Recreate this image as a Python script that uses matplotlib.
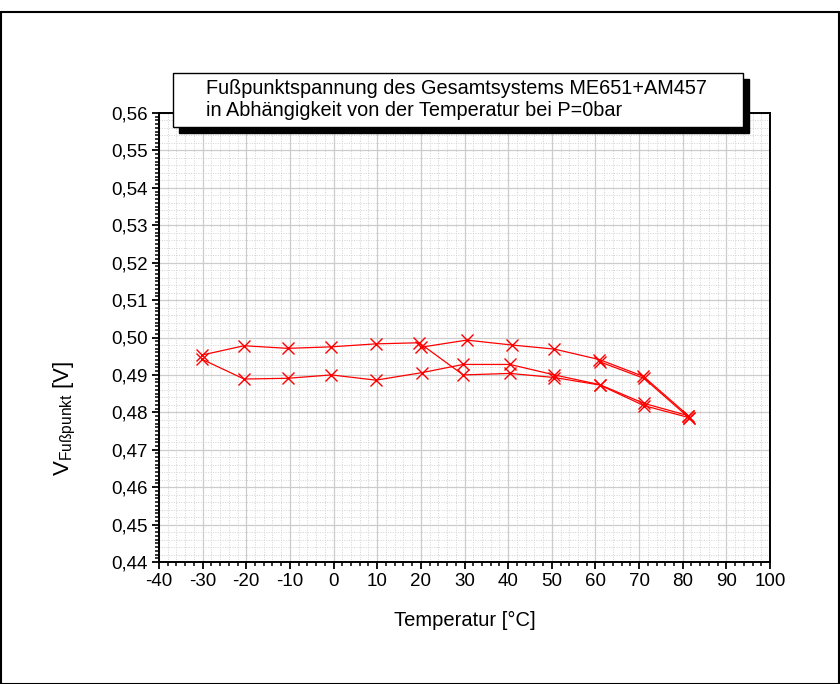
import numpy as np
import matplotlib
matplotlib.use("Agg")
import matplotlib.pyplot as plt
from matplotlib.patches import Rectangle
from matplotlib.ticker import MultipleLocator, FuncFormatter

plt.rcParams['font.family'] = ['Liberation Sans', 'DejaVu Sans']
plt.rcParams['mathtext.fontset'] = 'custom'
plt.rcParams['mathtext.rm'] = 'Liberation Sans'

temp_heat1 = [20.0, 30.5, 40.8, 50.6, 60.9, 71.0, 81.3]
volt_heat1 = [0.4974, 0.4993, 0.4980, 0.4969, 0.4941, 0.4896, 0.4791]
# Abkühlen 80 -> -30 °C
temp_cool1 = [81.3, 71.1, 61.0, 50.6, 40.4, 29.7, 20.2, 9.7, -0.5, -10.5, -20.5, -30.2]
volt_cool1 = [0.4791, 0.4824, 0.4874, 0.4900, 0.4928, 0.4928, 0.4906, 0.4886, 0.4900, 0.4891, 0.4889, 0.4942]
# erneutes Aufheizen -30 -> 80 °C
temp_heat2 = [-30.2, -20.5, -10.5, -0.6, 9.7, 19.6, 29.7, 40.4, 50.6, 61.0, 71.1, 81.4]
volt_heat2 = [0.4953, 0.4978, 0.4971, 0.4975, 0.4983, 0.4986, 0.4900, 0.4904, 0.4893, 0.4873, 0.4818, 0.4786]
# Abkühlen 80 -> 60 °C
temp_cool2 = [81.4, 71.1, 61.0]
volt_cool2 = [0.4786, 0.4891, 0.4935]

x_ticks = np.arange(-40, 101, 10)
y_ticks = np.arange(0.44, 0.5601, 0.01)

fig = plt.figure(figsize=(8.4, 6.84), dpi=100)
ax = fig.add_axes([159/840, 1-562/684, (770-159)/840, (562-113)/684])

# Gitter
for yy in np.arange(0.44, 0.5601, 0.002):
    ax.axhline(yy, color='#d2d2d2', lw=0.7, ls=(0, (1, 1.5)), zorder=0)
for xx in np.arange(-40, 101, 2):
    ax.axvline(xx, color='#d2d2d2', lw=0.7, ls=(0, (1, 1.5)), zorder=0)
for yy in y_ticks:
    ax.axhline(yy, color='#cccccc', lw=0.9, zorder=0)
for xx in x_ticks:
    ax.axvline(xx, color='#cccccc', lw=0.9, zorder=0)

for t, v in [(temp_heat1, volt_heat1), (temp_cool1, volt_cool1),
             (temp_heat2, volt_heat2), (temp_cool2, volt_cool2)]:
    ax.plot(t, v, color='red', lw=0.9, marker='x', ms=8.5, mew=1.0, zorder=3)

ax.set_xlim(-40, 100)
ax.set_ylim(0.44, 0.56)
ax.set_xticks(x_ticks)
ax.set_yticks(y_ticks)
ax.xaxis.set_minor_locator(MultipleLocator(2))
ax.yaxis.set_minor_locator(MultipleLocator(0.001))
ax.xaxis.set_major_formatter(FuncFormatter(lambda v, p: '%d' % round(v)))
ax.yaxis.set_major_formatter(FuncFormatter(lambda v, p: ('%.2f' % v).replace('.', ',')))
ax.tick_params(which='major', direction='out', length=5, width=1.3, labelsize=13.5,
               colors='black', pad=3)
ax.tick_params(which='minor', direction='out', length=3, width=1.1)
for s in ax.spines.values():
    s.set_linewidth(1.4)

ax.set_xlabel('Temperatur [°C]', fontsize=14.5, labelpad=15)
ax.set_ylabel(r'V$_{\mathregular{Fußpunkt}}$ [V]', fontsize=16)
ax.yaxis.set_label_coords(-0.132, 0.32)

# Titelkasten mit Schatten
px = lambda x, y: (x/840, 1-y/684)
x0, y0 = px(173, 127)
w, h = (743-173)/840, (127-73)/684
fig.patches.append(Rectangle((x0+6/840, y0-6/684), w, h, transform=fig.transFigure,
                             facecolor='black', edgecolor='black', zorder=10))
fig.patches.append(Rectangle((x0, y0), w, h, transform=fig.transFigure,
                             facecolor='white', edgecolor='black', lw=1.0, zorder=11))
tx, ty = px(206, 89)
fig.text(tx, ty, 'Fußpunktspannung des Gesamtsystems ME651+AM457', fontsize=14.3,
         va='center', ha='left', zorder=12)
tx, ty = px(206, 111)
fig.text(tx, ty, 'in Abhängigkeit von der Temperatur bei P=0bar', fontsize=14.3,
         va='center', ha='left', zorder=12)

# Rahmen um die Grafik
fig.patches.append(Rectangle((0.5/840, 1-683.5/684), 838.5/840, 672/684, transform=fig.transFigure,
                             facecolor='none', edgecolor='black', lw=1.5, zorder=20))

fig.savefig('out.png', dpi=100)
